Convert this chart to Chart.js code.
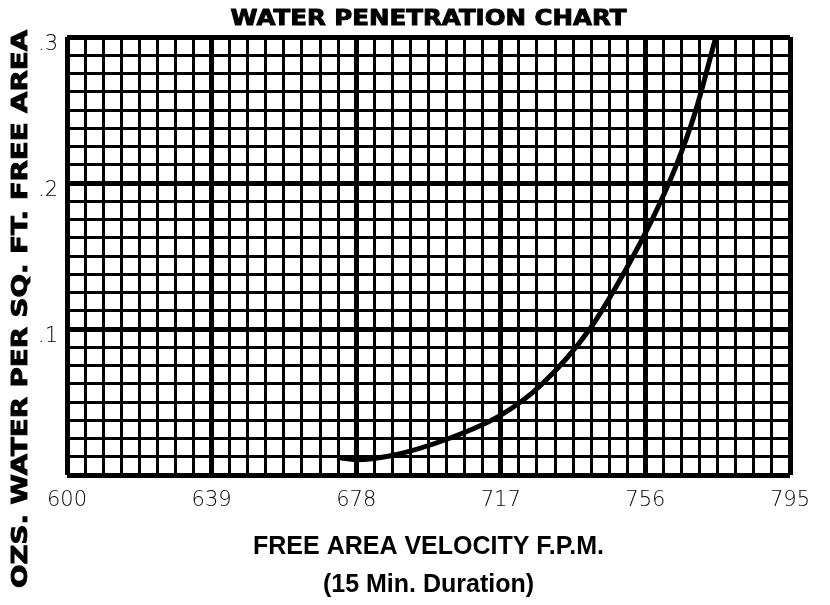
<!DOCTYPE html>
<html>
<head>
<meta charset="utf-8">
<title>Water Penetration Chart</title>
<script src="https://cdn.jsdelivr.net/npm/chart.js@4"></script>
<style>
  html, body { margin: 0; padding: 0; background: #fff; }
  #wrap { width: 830px; height: 605px; }
</style>
</head>
<body>
<div id="wrap"><canvas id="chart" width="830" height="605"></canvas></div>
<script>
// curve: free area velocity (F.P.M.) vs ozs. water per sq. ft.
const velocity = [673, 678, 687, 703, 717, 728, 741, 751, 758, 764, 769.5, 775];
const water = [0.012, 0.0105, 0.013, 0.025, 0.041, 0.062, 0.1, 0.142, 0.176, 0.21, 0.249, 0.3];

// labelled ticks
const xTickLabels = [600, 639, 678, 717, 756, 795];
const yTickLabels = [0.1, 0.2, 0.3];

const chartTitle = 'WATER PENETRATION CHART';
const xTitle = ['FREE AREA VELOCITY F.P.M.', '(15 Min. Duration)'];
const yTitle = 'OZS. WATER PER SQ. FT. FREE AREA';

const tickFont = { family: "'DejaVu Sans', sans-serif", size: 21, weight: 300 };

function isMajorX(v) {
    const k = (v - 600) / 39;
    return Math.abs(k - Math.round(k)) < 1e-6;
}

function isMajorY(v) {
    return Math.abs(v * 10 - Math.round(v * 10)) < 1e-6;
}

// the original uses a heavy extended face, so these two are drawn widened
function drawExtended(ctx, text, font, x, y, width, angle) {
    ctx.save();
    ctx.fillStyle = '#000';
    ctx.strokeStyle = '#000';
    ctx.lineWidth = 0.9;
    ctx.textAlign = 'center';
    ctx.textBaseline = 'middle';
    ctx.font = font;
    const w = ctx.measureText(text).width;
    ctx.translate(x, y);
    ctx.rotate(angle);
    ctx.scale(width / w, 1);
    ctx.fillText(text, 0, 0);
    ctx.strokeText(text, 0, 0);
    ctx.restore();
}

const extendedText = {
    id: 'extendedText',
    afterDraw(chart) {
        const { ctx, chartArea } = chart;
        drawExtended(ctx, chartTitle, "bold 21px 'DejaVu Sans'", (chartArea.left + chartArea.right) / 2, 20, 396, 0);
        drawExtended(ctx, yTitle, "bold 22px 'DejaVu Sans'", 21, 309, 558, -Math.PI / 2);
    }
};

new Chart(document.getElementById('chart'), {
    type: 'line',
    data: {
        datasets: [{
            data: velocity.map((v, i) => ({ x: v, y: water[i] })),
            borderColor: '#000',
            borderWidth: 5,
            pointRadius: 0,
            cubicInterpolationMode: 'monotone',
            fill: false
        }]
    },
    options: {
        responsive: false,
        animation: false,
        layout: { padding: { top: 37, right: 40, left: 0, bottom: 0 } },
        plugins: {
            legend: { display: false },
            tooltip: { enabled: false }
        },
        scales: {
            x: {
                type: 'linear',
                min: 600,
                max: 795,
                afterFit: s => { s.height = 130; },
                border: { display: false },
                grid: {
                    color: '#000',
                    drawTicks: false,
                    lineWidth: c => isMajorX(c.tick.value) ? 5 : 3
                },
                ticks: {
                    stepSize: 4.875,
                    autoSkip: false,
                    maxRotation: 0,
                    padding: 13,
                    color: '#000',
                    font: tickFont,
                    callback: v => {
                        const r = Math.round(v * 1000) / 1000;
                        return xTickLabels.includes(r) ? String(r) : '';
                    }
                },
                title: {
                    display: true,
                    text: xTitle,
                    color: '#000',
                    font: { family: "'Liberation Sans', Arial, sans-serif", weight: 'bold', size: 25, lineHeight: 1.52 },
                    padding: { top: 0, bottom: 1 }
                }
            },
            y: {
                min: 0,
                max: 0.3,
                afterFit: s => { s.width = 67; },
                border: { display: false },
                grid: {
                    color: '#000',
                    drawTicks: false,
                    lineWidth: c => isMajorY(c.tick.value) ? 5 : 3
                },
                ticks: {
                    stepSize: 0.0125,
                    autoSkip: false,
                    padding: 9,
                    labelOffset: 8,
                    color: '#000',
                    font: tickFont,
                    callback: v => {
                        const r = Math.round(v * 10) / 10;
                        return (isMajorY(v) && yTickLabels.includes(r)) ? r.toFixed(1).slice(1) : '';
                    }
                }
            }
        }
    },
    plugins: [extendedText]
});
</script>
</body>
</html>
